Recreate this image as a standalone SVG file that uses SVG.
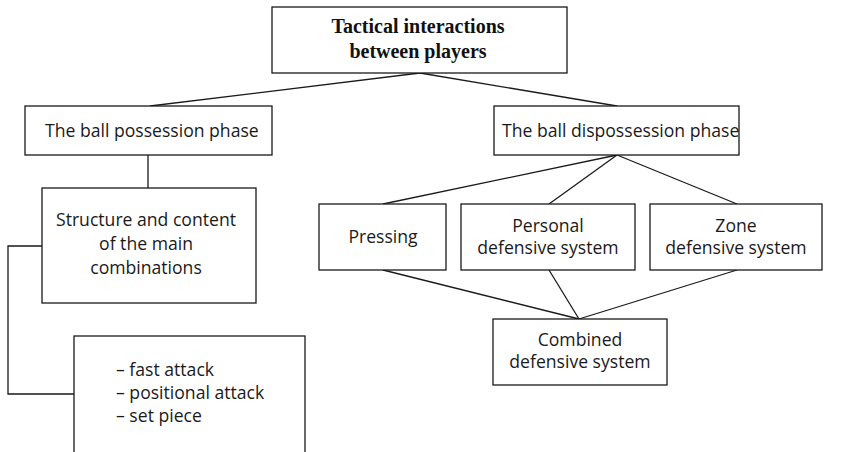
<svg xmlns="http://www.w3.org/2000/svg" width="846" height="452" viewBox="0 0 846 452">
<style>
.box{fill:#fff;stroke:#1a1a1a;stroke-width:1.3}
.ln{fill:none;stroke:#1a1a1a;stroke-width:1.3}
.t{font-family:"Open Sans","Noto Sans",sans-serif;font-size:17.6px;fill:#1a1a1a}
.c{text-anchor:middle}
.h{font-family:"Liberation Serif","Times New Roman",serif;font-weight:bold;font-size:20px;fill:#111;text-anchor:middle}
</style>
<rect width="846" height="452" fill="#fff"/>
<g id="connectors">
<line class="ln" x1="420" y1="73" x2="150" y2="106"/>
<line class="ln" x1="420" y1="73" x2="617" y2="106"/>
<line class="ln" x1="148" y1="155" x2="148" y2="188"/>
<polyline class="ln" points="42,246 8,246 8,394 74,394"/>
<line class="ln" x1="617" y1="155" x2="383" y2="204"/>
<line class="ln" x1="617" y1="155" x2="549" y2="204"/>
<line class="ln" x1="617" y1="155" x2="737" y2="204"/>
<line class="ln" x1="383" y1="270" x2="579" y2="319"/>
<line class="ln" x1="549" y1="270" x2="579" y2="319"/>
<line class="ln" x1="737" y1="270" x2="579" y2="319"/>
</g>
<g id="root">
<rect class="box" x="272" y="7" width="295" height="66"/>
<text class="h" x="418" y="33">Tactical interactions</text>
<text class="h" x="418" y="58">between players</text>
</g>
<g id="possession">
<rect class="box" x="25" y="106" width="247" height="49"/>
<text class="t" x="45" y="137">The ball possession phase</text>
</g>
<g id="dispossession">
<rect class="box" x="494" y="106" width="245" height="49"/>
<text class="t" x="502" y="137">The ball dispossession phase</text>
</g>
<g id="structure">
<rect class="box" x="42" y="188" width="214" height="115"/>
<text class="t c" x="146" y="226">Structure and content</text>
<text class="t c" x="146" y="250">of the main</text>
<text class="t c" x="146" y="274">combinations</text>
</g>
<g id="attacks">
<rect class="box" x="74" y="336" width="231" height="130"/>
<text class="t" x="116" y="376">– fast attack</text>
<text class="t" x="116" y="399">– positional attack</text>
<text class="t" x="116" y="422">– set piece</text>
</g>
<g id="pressing">
<rect class="box" x="319" y="204" width="127" height="66"/>
<text class="t c" x="383" y="243">Pressing</text>
</g>
<g id="personal">
<rect class="box" x="461" y="204" width="174" height="66"/>
<text class="t c" x="548" y="232">Personal</text>
<text class="t c" x="548" y="254">defensive system</text>
</g>
<g id="zone">
<rect class="box" x="650" y="204" width="172" height="66"/>
<text class="t c" x="736" y="232">Zone</text>
<text class="t c" x="736" y="254">defensive system</text>
</g>
<g id="combined">
<rect class="box" x="493" y="319" width="174" height="66"/>
<text class="t c" x="580" y="346">Combined</text>
<text class="t c" x="580" y="368">defensive system</text>
</g>
</svg>
